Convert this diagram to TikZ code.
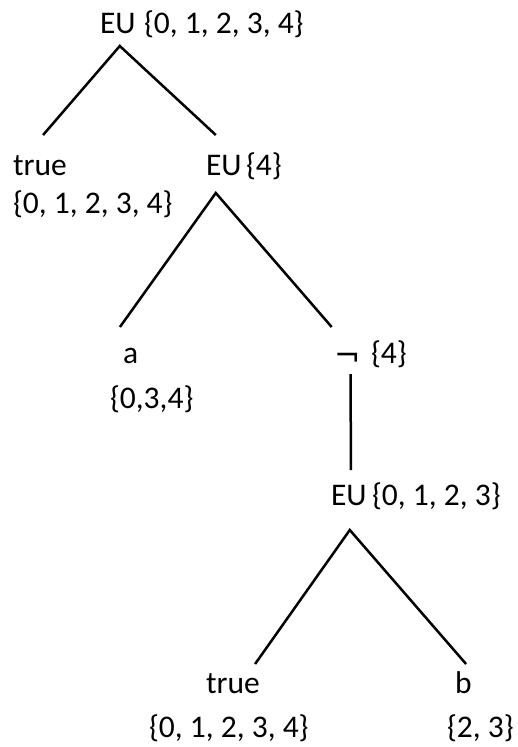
\documentclass[tikz,border=0pt]{standalone}
\usepackage{fontspec}
\setmainfont{Carlito}
\newfontfamily\negfont{DejaVu Sans}
\begin{document}
\begin{tikzpicture}[x=1pt,y=-1pt,
		lbl/.style={anchor=base west,inner sep=0pt,outer sep=0pt,text height=20pt,text depth=0pt,font=\fontsize{31.5}{38}\selectfont},
		branch/.style={line width=2.5pt}]
			\useasboundingbox (0,0) rectangle (518,747);
			\node[lbl] (EU1) at (100,33) {EU};
			\node[lbl] (S1) at (144,33) {\{0, 1, 2, 3, 4\}};
			\node[lbl] (T1) at (13,175) {true};
			\node[lbl] (S2) at (13,213) {\{0, 1, 2, 3, 4\}};
			\node[lbl] (EU2) at (206,175) {EU};
			\node[lbl] (S3) at (246,175) {\{4\}};
			\node[lbl] (A) at (123,363) {a};
			\node[lbl] (S4) at (110,408) {\{0,3,4\}};
			\node[lbl] (N) at (334,363) {\raisebox{-3pt}{\negfont ¬}};
			\node[lbl] (S5) at (371,363) {\{4\}};
			\node[lbl] (EU3) at (331,505) {EU};
			\node[lbl] (S6) at (372,505) {\{0, 1, 2, 3\}};
			\node[lbl] (T2) at (206,693) {true};
			\node[lbl] (B) at (455,693) {b};
			\node[lbl] (S7) at (149,737) {\{0, 1, 2, 3, 4\}};
			\node[lbl] (S8) at (447,737) {\{2, 3\}};
			\draw[branch] ([shift={(-8,-20)}]EU2.north)--([shift={(2,13)}]EU1.south)--([shift={(3.2,-20)}]T1.north);
			\draw[branch] ([shift={(-10.6,-16)}]A.north)--([shift={(-8,18)}]EU2.south)--([shift={(-15.5,-16)}]N.north);
			\draw[branch] ([shift={(3.5,11)}]N.south)--([shift={(2,-15)}]EU3.north);
			\draw[branch] ([shift={(22.2,-9)}]T2.north)--([shift={(1,25)}]EU3.south)--([shift={(2.8,-9)}]B.north);
\end{tikzpicture}
\end{document}
